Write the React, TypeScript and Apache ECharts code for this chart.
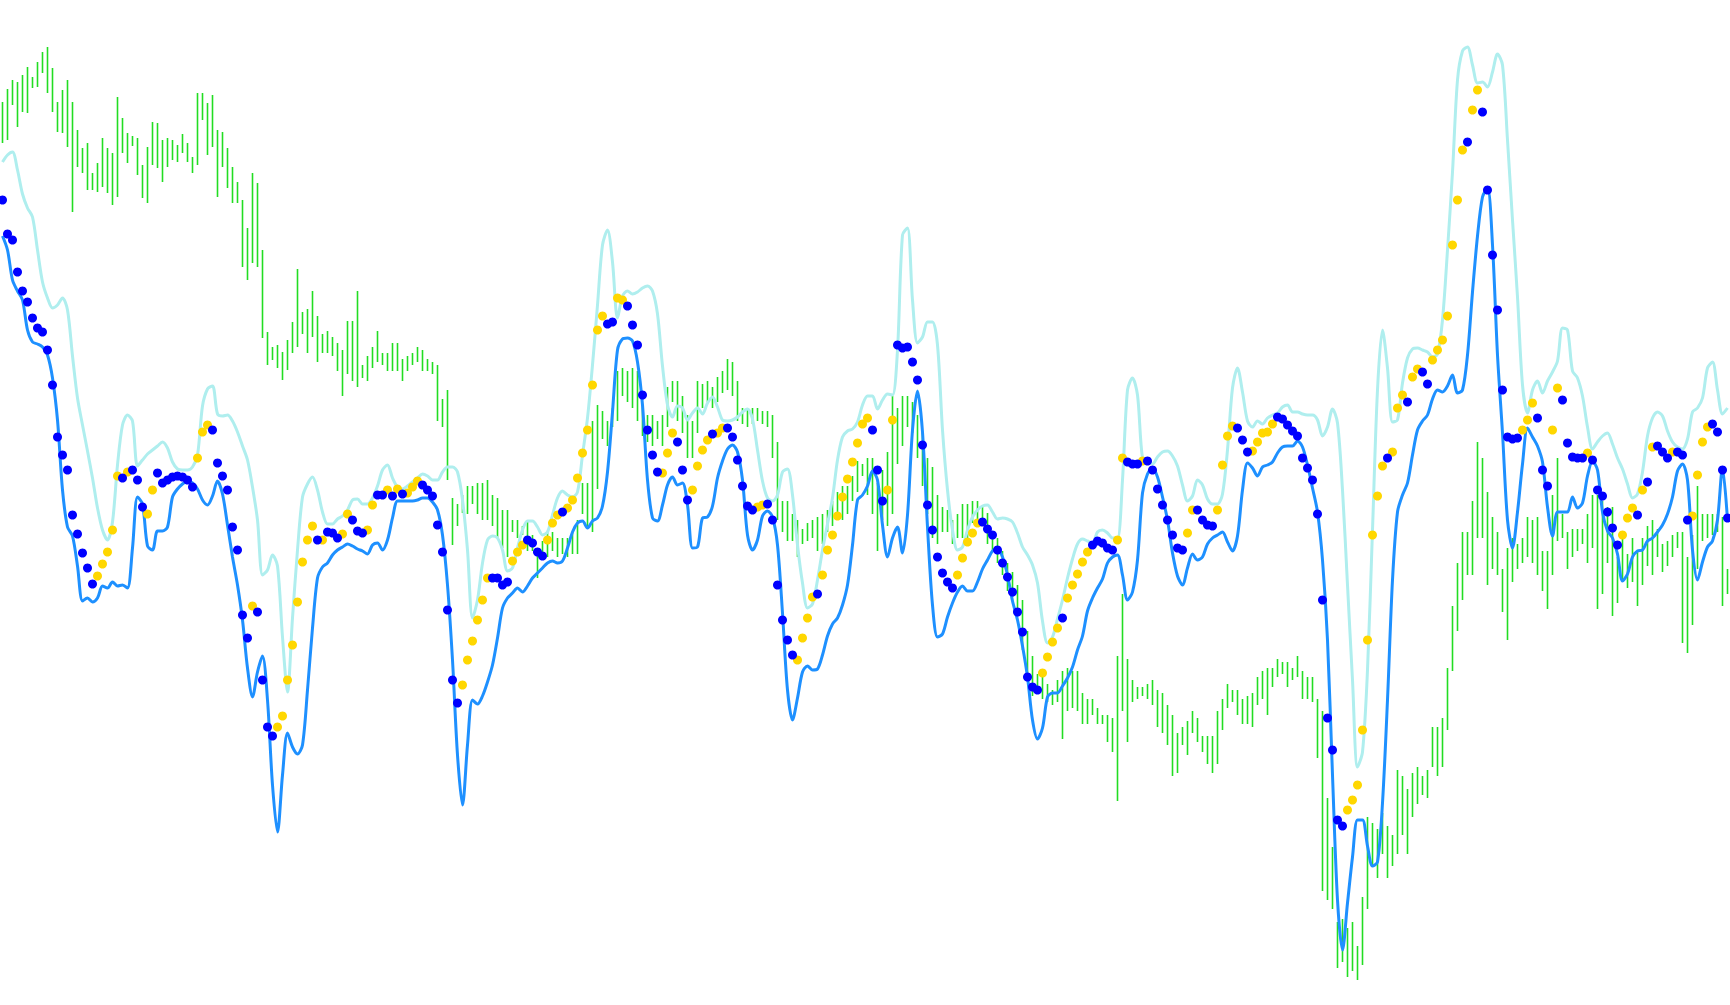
import React, { useEffect, useRef } from "react";
import * as echarts from "echarts";

// Price bars: top (high) and bottom (low) levels, one bar per period (screen-down level units)
const barTop = [
  102, 89, 80, 82, 75, 67, 77, 62, 52, 47,
  68, 102, 90, 80, 102, 130, 148, 143, 173, 163,
  138, 148, 153, 97, 118, 133, 136, 138, 165, 147,
  122, 123, 140, 138, 140, 145, 134, 143, 157, 93,
  93, 103, 95, 130, 132, 148, 167, 182, 200, 228,
  173, 183, 250, 332, 347, 345, 352, 340, 322, 269,
  312, 309, 291, 316, 334, 331, 337, 343, 350, 321,
  321, 291, 365, 356, 347, 331, 353, 353, 343, 343,
  359, 356, 353, 347, 350, 359, 362, 365, 399, 390,
  498, 504, 495, 486, 486, 483, 483, 480, 495, 498,
  510, 510, 520, 520, 526, 520, 535, 548, 541, 532,
  532, 538, 538, 538, 532, 520, 483, 483, 421, 405,
  411, 421, 408, 371, 368, 371, 368, 371, 405, 415,
  415, 421, 415, 387, 381, 381, 396, 415, 421, 381,
  384, 381, 387, 377, 371, 359, 362, 381, 408, 408,
  408, 408, 411, 411, 415, 442, 501, 501, 514, 520,
  529, 523, 520, 517, 514, 510, 501, 492, 486, 486,
  476, 461, 464, 458, 458, 483, 470, 452, 396, 408,
  396, 396, 402, 415, 433, 458, 467, 495, 507, 510,
  520, 514, 504, 504, 501, 501, 507, 513, 532, 538,
  551, 563, 572, 585, 600, 631, 656, 674, 677, 684,
  690, 680, 671, 668, 671, 671, 693, 699, 699, 708,
  715, 715, 718, 656, 594, 659, 680, 687, 687, 684,
  680, 690, 693, 705, 715, 733, 727, 721, 711, 718,
  736, 736, 736, 711, 699, 684, 690, 690, 699, 696,
  693, 677, 671, 668, 668, 659, 662, 662, 668, 656,
  671, 677, 677, 699, 711, 798, 847, 922, 919, 928,
  922, 946, 897, 817, 823, 829, 813, 826, 835, 770,
  776, 789, 773, 767, 776, 770, 727, 727, 718, 668,
  606, 563, 532, 532, 501, 442, 458, 492, 517, 532,
  569, 548, 538, 544, 538, 517, 520, 517, 551, 551,
  495, 458, 514, 532, 529, 529, 529, 514, 495, 495,
  501, 507, 507, 557, 538, 554, 538, 551, 538, 526,
  520, 529, 544, 541, 535, 532, 532, 557, 535, 486,
  514, 514, 514, 514, 517, 569,
];

const barBottom = [
  143, 140, 105, 127, 112, 113, 88, 87, 73, 93,
  112, 132, 133, 147, 212, 167, 173, 190, 190, 192,
  187, 193, 205, 197, 153, 163, 146, 175, 198, 203,
  165, 168, 182, 167, 160, 162, 153, 162, 173, 165,
  120, 155, 147, 197, 167, 188, 203, 203, 267, 280,
  263, 267, 338, 365, 360, 368, 380, 370, 353, 347,
  334, 353, 337, 362, 353, 353, 356, 371, 396, 374,
  381, 387, 378, 381, 368, 362, 365, 371, 371, 371,
  381, 371, 365, 362, 371, 371, 374, 421, 427, 480,
  545, 526, 513, 514, 504, 514, 520, 520, 526, 538,
  548, 557, 532, 538, 535, 551, 551, 578, 560, 557,
  551, 557, 554, 557, 554, 554, 514, 526, 532, 489,
  439, 446, 427, 421, 396, 402, 408, 421, 436, 442,
  446, 439, 446, 427, 402, 421, 433, 458, 458, 433,
  408, 402, 408, 402, 393, 390, 396, 421, 424, 427,
  424, 421, 424, 427, 458, 520, 532, 541, 541, 557,
  544, 541, 538, 551, 544, 532, 526, 517, 520, 514,
  501, 492, 476, 495, 514, 551, 520, 526, 514, 464,
  446, 427, 433, 458, 486, 514, 538, 544, 532, 532,
  544, 538, 538, 538, 523, 520, 526, 544, 551, 563,
  575, 591, 597, 612, 650, 680, 696, 693, 699, 702,
  705, 702, 739, 711, 708, 711, 724, 724, 715, 724,
  724, 742, 752, 801, 711, 742, 702, 699, 696, 699,
  705, 727, 733, 745, 776, 773, 745, 755, 733, 742,
  752, 764, 773, 764, 730, 708, 702, 715, 724, 724,
  727, 705, 699, 715, 687, 677, 674, 687, 680, 677,
  699, 699, 702, 758, 891, 900, 909, 968, 962, 977,
  971, 980, 965, 909, 866, 878, 854, 878, 866, 854,
  835, 854, 817, 804, 795, 798, 767, 776, 767, 730,
  671, 631, 600, 575, 575, 538, 538, 585, 569, 575,
  612, 640, 582, 569, 563, 557, 563, 575, 591, 609,
  575, 541, 538, 569, 557, 551, 544, 563, 548, 609,
  594, 563, 616, 603, 582, 588, 582, 606, 585, 566,
  575, 557, 572, 566, 557, 548, 643, 653, 625, 569,
  541, 538, 535, 532, 606, 594,
];

// Upper band (light cyan line)
const upperBand = [
  162, 155, 152, 170, 194, 208, 217, 250, 282, 298,
  308, 305, 298, 310, 356, 398, 425, 451, 478, 508,
  530, 540, 522, 465, 425, 415, 421, 466, 460, 454,
  450, 446, 442, 448, 462, 469, 470, 470, 467, 455,
  406, 389, 386, 414, 416, 415, 421, 432, 446, 460,
  487, 520, 575, 570, 555, 566, 637, 692, 618, 550,
  497, 484, 477, 490, 512, 524, 524, 519, 516, 510,
  500, 499, 504, 504, 498, 486, 470, 465, 478, 487,
  489, 486, 482, 478, 474, 476, 480, 480, 472, 467,
  467, 472, 500, 550, 618, 600, 563, 540, 536, 538,
  550, 571, 568, 548, 530, 521, 521, 527, 535, 532,
  515, 498, 491, 495, 497, 492, 455, 418, 365, 305,
  245, 230, 262, 318, 296, 291, 294, 292, 288, 286,
  291, 314, 366, 405, 417, 406, 408, 420, 413, 408,
  414, 403, 397, 407, 420, 421, 420, 417, 412, 409,
  419, 450, 481, 498, 501, 495, 472, 469, 495, 545,
  583, 608, 604, 580, 550, 524, 498, 460, 437, 431,
  429, 422, 405, 396, 396, 409, 400, 394, 395, 350,
  235, 228, 300, 343, 337, 322, 322, 345, 430, 490,
  530, 550, 547, 530, 517, 510, 506, 505, 512, 519,
  518, 519, 522, 533, 547, 555, 565, 583, 621, 643,
  637, 619, 600, 578, 559, 544, 539, 541, 543, 532,
  530, 533, 538, 538, 480, 390, 378, 395, 458, 461,
  464, 457, 452, 451, 456, 466, 485, 501, 496, 480,
  485, 499, 504, 504, 494, 450, 388, 368, 392, 421,
  427, 421, 424, 418, 415, 413, 407, 405, 412, 412,
  414, 415, 415, 420, 436, 427, 409, 423, 490, 585,
  680, 767, 752, 670, 530, 390, 330, 368, 422, 420,
  383, 358, 349, 348, 350, 352, 357, 354, 320, 250,
  172, 80, 51, 47, 65, 83, 82, 87, 72, 54,
  65, 140, 220, 297, 385, 413, 390, 381, 393, 381,
  372, 361, 328, 330, 371, 378, 396, 427, 449, 442,
  436, 433, 444, 458, 469, 484, 498, 494, 472, 436,
  418, 412, 416, 431, 442, 447, 449, 439, 412, 408,
  398, 368, 362, 390, 414, 408,
];

// Lower band (dodger blue line)
const lowerBand = [
  236, 250, 280, 291, 300, 330, 342, 344, 347, 355,
  378, 420, 490, 527, 536, 566, 601, 598, 602, 598,
  586, 588, 582, 586, 585, 588, 548, 497, 504, 546,
  550, 531, 531, 527, 497, 489, 484, 481, 483, 489,
  500, 505, 496, 481, 494, 525, 557, 585, 620, 668,
  697, 672, 656, 700, 785, 832, 775, 733, 747, 754,
  745, 690, 628, 578, 567, 563, 555, 550, 547, 544,
  546, 549, 551, 554, 545, 543, 550, 540, 518, 501,
  501, 501, 501, 500, 498, 498, 502, 510, 535, 585,
  660, 755, 805, 745, 700, 704, 696, 682, 665, 638,
  608, 598, 593, 588, 592, 586, 578, 573, 568, 563,
  561, 563, 561, 548, 532, 523, 521, 528, 521, 518,
  506, 472, 412, 350, 339, 338, 341, 362, 405, 480,
  518, 521, 505, 485, 477, 485, 483, 505, 548, 547,
  518, 517, 506, 478, 461, 449, 445, 452, 480, 535,
  550, 540, 516, 511, 517, 545, 613, 690, 720, 698,
  672, 666, 670, 669, 655, 636, 624, 618, 605, 585,
  545, 500, 495, 486, 471, 480, 525, 557, 538, 527,
  553, 515, 430, 391, 432, 527, 605, 637, 634, 617,
  603, 592, 586, 591, 591, 582, 569, 560, 551, 549,
  557, 575, 601, 620, 646, 677, 720, 739, 728, 697,
  693, 693, 686, 678, 667, 650, 636, 611, 598, 588,
  579, 563, 557, 555, 575, 600, 592, 560, 493, 474,
  468, 477, 497, 520, 553, 576, 585, 568, 554, 560,
  557, 544, 538, 535, 532, 542, 551, 536, 490, 463,
  468, 476, 467, 465, 462, 453, 447, 446, 446, 441,
  447, 465, 488, 512, 560, 640, 775, 900, 950, 903,
  857, 820, 820, 846, 866, 862, 803, 700, 580, 512,
  495, 483, 455, 430, 421, 415, 399, 390, 392, 386,
  375, 393, 390, 355, 292, 236, 197, 188, 245, 355,
  433, 520, 548, 512, 464, 428, 437, 446, 462, 507,
  536, 512, 512, 512, 497, 508, 503, 476, 461, 470,
  512, 531, 538, 554, 581, 574, 557, 551, 550, 541,
  538, 532, 525, 514, 497, 471, 464, 480, 550, 580,
  562, 547, 541, 520, 468, 520,
];

// Signal dots: level per period
const signal = [
  200, 234, 240, 272, 291, 302, 318, 328, 332, 350,
  385, 437, 455, 470, 515, 534, 553, 568, 584, 576,
  564, 552, 530, 476, 478, 472, 470, 480, 507, 514,
  490, 473, 483, 480, 477, 476, 477, 480, 487, 458,
  432, 425, 430, 463, 476, 490, 527, 550, 615, 638,
  606, 612, 680, 727, 736, 727, 716, 680, 645, 602,
  562, 540, 526, 540, 540, 532, 533, 538, 534, 514,
  520, 531, 533, 530, 505, 495, 495, 490, 496, 489,
  494, 493, 487, 481, 485, 490, 496, 525, 552, 610,
  680, 703, 685, 660, 641, 620, 600, 578, 578, 578,
  585, 582, 561, 552, 545, 540, 543, 552, 556, 540,
  523, 515, 512, 508, 500, 478, 453, 430, 385, 330,
  316, 324, 322, 298, 300, 306, 325, 345, 395, 430,
  455, 472, 473, 453, 433, 442, 470, 500, 490, 466,
  450, 440, 434, 433, 428, 428, 437, 460, 486, 506,
  510, 507, 505, 504, 520, 585, 620, 640, 655, 660,
  638, 618, 597, 594, 575, 550, 535, 516, 497, 479,
  462, 443, 424, 418, 430, 470, 501, 490, 420, 345,
  348, 347, 362, 380, 445, 505, 530, 557, 573, 582,
  588, 575, 558, 542, 533, 523, 522, 529, 535, 550,
  563, 577, 592, 612, 632, 677, 687, 690, 673, 657,
  642, 628, 618, 598, 585, 574, 562, 552, 545, 541,
  543, 548, 550, 540, 458, 462, 464, 464, 461, 461,
  470, 489, 505, 520, 535, 548, 550, 533, 510, 510,
  520, 525, 526, 510, 465, 436, 426, 428, 440, 452,
  451, 442, 433, 432, 424, 417, 419, 425, 431, 436,
  458, 468, 480, 514, 600, 718, 750, 820, 826, 810,
  800, 785, 730, 640, 535, 496, 466, 458, 452, 408,
  395, 402, 377, 369, 372, 384, 360, 350, 340, 316,
  245, 200, 150, 142, 110, 90, 112, 190, 255, 310,
  390, 437, 439, 438, 430, 420, 403, 418, 470, 486,
  430, 388, 400, 443, 457, 458, 458, 453, 460, 490,
  496, 512, 528, 545, 535, 518, 508, 515, 490, 482,
  447, 446, 452, 458, 452, 452, 455, 520, 516, 475,
  442, 427, 424, 432, 470, 518,
];

// Signal direction runs: "U" = rising (gold dots), "D" = falling (blue dots)
const trendRuns: [string, number][] = [
  ["D", 19], ["U", 5], ["D", 1], ["U", 1], ["D", 3], ["U", 2], ["D", 8], ["U", 3],
  ["D", 8], ["U", 1], ["D", 4], ["U", 8], ["D", 1], ["U", 1], ["D", 3], ["U", 2],
  ["D", 3], ["U", 2], ["D", 2], ["U", 1], ["D", 1], ["U", 1], ["D", 1], ["U", 3],
  ["D", 8], ["U", 6], ["D", 4], ["U", 3], ["D", 4], ["U", 3], ["D", 1], ["U", 8],
  ["D", 2], ["U", 2], ["D", 7], ["U", 3], ["D", 3], ["U", 4], ["D", 1], ["U", 2],
  ["D", 6], ["U", 2], ["D", 6], ["U", 4], ["D", 1], ["U", 10], ["D", 3], ["U", 2],
  ["D", 12], ["U", 5], ["D", 12], ["U", 4], ["D", 1], ["U", 5], ["D", 5], ["U", 2],
  ["D", 3], ["U", 1], ["D", 8], ["U", 2], ["D", 4], ["U", 4], ["D", 3], ["U", 5],
  ["D", 14], ["U", 8], ["D", 1], ["U", 3], ["D", 1], ["U", 2], ["D", 2], ["U", 7],
  ["D", 1], ["U", 2], ["D", 8], ["U", 3], ["D", 3], ["U", 2], ["D", 5], ["U", 1],
  ["D", 6], ["U", 3], ["D", 1], ["U", 1], ["D", 1], ["U", 1], ["D", 3], ["U", 1],
  ["D", 3], ["U", 4], ["D", 4],
];

const GREEN = "#22dd22";
const CYAN = "#afeeee";
const LINE_BLUE = "#1e90ff";
const GOLD = "#ffd700";
const DOT_BLUE = "#0000ff";

export default function App() {
  const ref = useRef<HTMLDivElement>(null);

  useEffect(() => {
    document.documentElement.style.margin = "0";
    document.body.style.margin = "0";
    document.body.style.overflow = "hidden";
    if (!ref.current) return;
    const chart = echarts.init(ref.current, undefined, { renderer: "svg" });

    const n = barTop.length;
    const trend: string[] = [];
    trendRuns.forEach(([c, k]) => {
      for (let i = 0; i < k; i++) trend.push(c);
    });
    const bars = barTop.map((v, i) => [i, v, barBottom[i]]);
    const upDots: number[][] = [];
    const downDots: number[][] = [];
    signal.forEach((v, i) => {
      if (trend[i] === "U") upDots.push([i, v]);
      else downDots.push([i, v]);
    });

    chart.setOption({
      animation: false,
      backgroundColor: "#ffffff",
      grid: { left: 0, right: 0, top: 0, bottom: 0 },
      xAxis: { type: "value", min: -0.5, max: n - 0.5, show: false },
      yAxis: { type: "value", min: 0, max: 1005, inverse: true, show: false },
      series: [
        {
          type: "custom",
          silent: true,
          z: 1,
          encode: { x: 0, y: [1, 2] },
          data: bars,
          renderItem: (params: any, api: any) => {
            const x = api.value(0);
            const a = api.coord([x, api.value(1)]);
            const b = api.coord([x, api.value(2)]);
            return {
              type: "line",
              shape: { x1: a[0], y1: a[1], x2: b[0], y2: b[1] },
              style: { stroke: GREEN, lineWidth: 1.6 },
            };
          },
        },
        {
          type: "line",
          silent: true,
          z: 2,
          data: upperBand.map((v, i) => [i, v]),
          showSymbol: false,
          smooth: 0.3,
          lineStyle: { color: CYAN, width: 3 },
          itemStyle: { color: CYAN },
        },
        {
          type: "line",
          silent: true,
          z: 3,
          data: lowerBand.map((v, i) => [i, v]),
          showSymbol: false,
          smooth: 0.3,
          lineStyle: { color: LINE_BLUE, width: 3 },
          itemStyle: { color: LINE_BLUE },
        },
        {
          type: "scatter",
          silent: true,
          z: 4,
          data: upDots,
          symbol: "circle",
          symbolSize: 9,
          itemStyle: { color: GOLD, opacity: 1 },
        },
        {
          type: "scatter",
          silent: true,
          z: 5,
          data: downDots,
          symbol: "circle",
          symbolSize: 9,
          itemStyle: { color: DOT_BLUE, opacity: 1 },
        },
      ],
    });

    return () => chart.dispose();
  }, []);

  return <div ref={ref} style={{ width: 1730, height: 1005 }} />;
}
